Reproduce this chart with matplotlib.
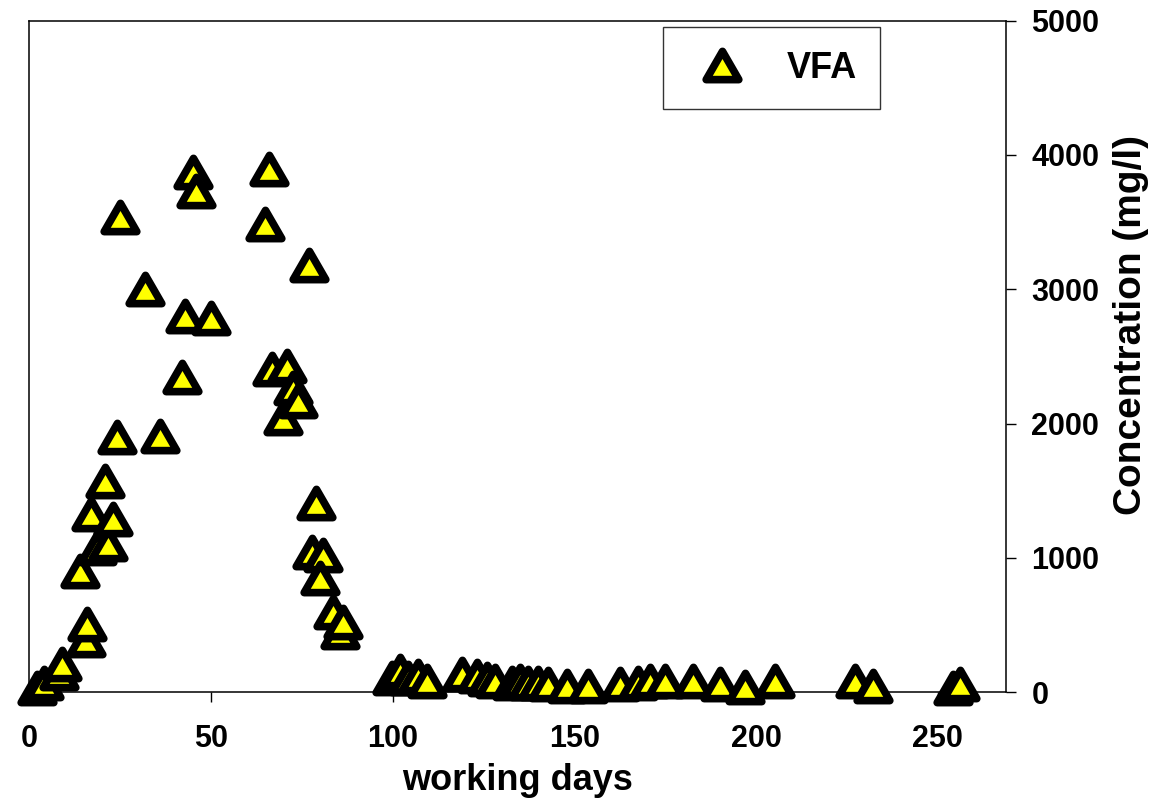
import matplotlib
matplotlib.use('Agg')
import matplotlib.pyplot as plt
from matplotlib.markers import MarkerStyle
from matplotlib.path import Path
import numpy as np

# VFA concentration vs working days
days = [2, 4, 8, 9, 15.6, 15.8,
        13.9, 16.9, 18.6, 20.8, 21.6, 23.0, 24.1, 35.9,
        24.9, 31.8, 42.0, 42.8, 45.0, 45.8, 49.9,
        64.8, 65.9, 66.8, 69.8, 70.9, 72.6, 73.9, 76.9,
        78.9, 77.8, 80.8, 80.0, 83.6, 85.5, 86.3,
        99.8, 102.0, 104.2, 107.0, 109.4,
        119.1, 123.2, 125.9, 128.2, 132.8, 135.0, 137.3, 140.0, 142.8,
        148.0, 153.8, 162.6, 167.5, 170.8, 174.9, 182.7, 190.1, 197.0,
        205.3, 227.3, 232.2, 254.3, 256.2]
vfa = [30, 70, 143, 210, 389, 508,
       902, 1327, 1074, 1573, 1103, 1290, 1899, 1906,
       3537, 3001, 2346, 2800, 3874, 3733, 2785,
       3486, 3896, 2406, 2041, 2429, 2265, 2168, 3181,
       1409, 1044, 1022, 851, 597, 448, 523,
       106, 159, 106, 121, 83,
       136, 121, 98, 83, 69, 83, 69, 69, 61,
       46, 46, 61, 69, 83, 83, 83, 61, 39,
       83, 87, 46, 35, 61]

xticks = [0, 50, 100, 150, 200, 250]
yticks = [0, 1000, 2000, 3000, 4000, 5000]

plt.rcParams['font.family'] = ['Liberation Sans', 'DejaVu Sans']
plt.rcParams['font.weight'] = 'bold'

# equilateral triangle, centred on its bounding box
tri = Path([(-1, -0.866), (1, -0.866), (0, 0.866), (-1, -0.866)],
           [Path.MOVETO, Path.LINETO, Path.LINETO, Path.CLOSEPOLY])
mk = MarkerStyle(tri, joinstyle='round')

fig = plt.figure(figsize=(11.65, 8.01), dpi=100)
ax = fig.add_axes([0.0253, 0.1358, 0.8382, 0.8384])

ax.plot(days, vfa, linestyle='none', marker=mk, markersize=23.5,
        markerfacecolor='#FFFF00', markeredgecolor='black',
        markeredgewidth=5.5, label='VFA', clip_on=False, zorder=3)

ax.set_xlim(0, 268.8)
ax.set_ylim(0, 5000)
ax.set_xticks(xticks)
ax.set_yticks(yticks)
ax.yaxis.tick_right()
ax.yaxis.set_label_position('right')
ax.tick_params(axis='x', direction='out', length=7.2, width=1, pad=16, labelsize=22)
ax.tick_params(axis='y', direction='out', length=7.2, width=1, pad=11, labelsize=22)
for sp in ax.spines.values():
    sp.set_linewidth(1.1)

ax.set_xlabel('working days', fontsize=26, fontweight='bold', labelpad=6)
ax.set_ylabel('Concentration (mg/l)', fontsize=28, fontweight='bold', rotation=90)
ax.yaxis.set_label_coords(1.110, 0.547)

leg = ax.legend(loc='upper left', bbox_to_anchor=(0.569, 0.966),
                bbox_transform=fig.transFigure, fontsize=26, numpoints=1,
                fancybox=False, borderpad=0.65, handlelength=1.98,
                handletextpad=0.8, borderaxespad=0)
leg.get_frame().set_edgecolor('black')
leg.get_frame().set_linewidth(1)

fig.savefig('out.png', dpi=100)
